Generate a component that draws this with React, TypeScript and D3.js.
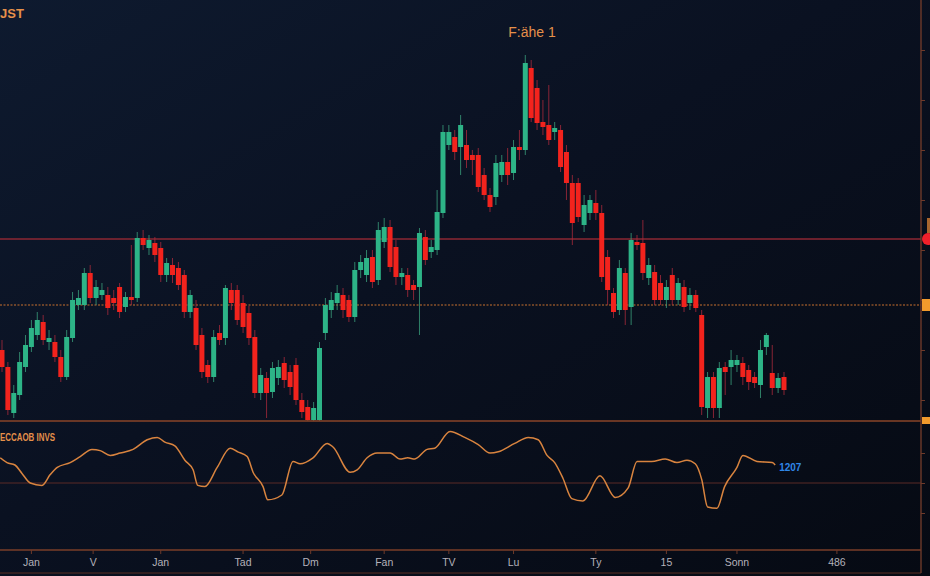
import { useEffect, useRef } from 'react';
import * as d3 from 'd3';

const W = 930;
const H = 576;

// OHLC, one entry per candle (price units)
const opens = [
  150, 133, 87, 105, 133, 153, 165, 178, 158, 158,
  143, 123, 162, 195, 195, 227, 202, 205, 205, 202,
  213, 193, 203, 202, 262, 252, 257, 252, 225, 235,
  232, 225, 188, 192, 165, 135, 123, 167, 162, 210,
  210, 197, 187, 163, 107, 122, 108, 122, 137, 128,
  135, 100, 93, 80, 80, 167, 190, 197, 205, 200,
  183, 230, 225, 243, 220, 258, 273, 253, 223, 225,
  215, 213, 263, 248, 250, 287, 355, 363, 353, 355,
  345, 345, 325, 305, 303, 325, 338, 327, 353, 350,
  432, 412, 378, 375, 368, 370, 348, 317, 317, 275,
  287, 297, 287, 243, 207, 190, 227, 193, 258, 257,
  222, 228, 217, 200, 225, 200, 213, 197, 205, 185,
  92, 123, 92, 133, 133, 135, 137, 130, 123, 115,
  153, 127, 112, 123,
];
const highs = [
  160, 138, 115, 148, 165, 180, 188, 185, 170, 165,
  150, 170, 208, 210, 232, 235, 220, 217, 213, 210,
  217, 208, 255, 268, 270, 265, 263, 258, 242, 242,
  238, 230, 210, 200, 172, 140, 170, 175, 215, 217,
  215, 205, 194, 170, 132, 128, 138, 140, 143, 135,
  142, 107, 100, 98, 158, 202, 208, 215, 212, 205,
  238, 245, 250, 250, 278, 282, 280, 260, 232, 232,
  220, 272, 270, 260, 310, 375, 375, 370, 385, 370,
  350, 352, 332, 312, 345, 345, 352, 360, 370, 445,
  440, 420, 400, 415, 378, 375, 355, 325, 322, 305,
  305, 310, 295, 250, 212, 240, 232, 267, 265, 280,
  242, 235, 225, 220, 232, 222, 220, 212, 210, 190,
  128, 128, 138, 138, 150, 145, 143, 135, 128, 160,
  167, 155, 127, 128,
];
const lows = [
  128, 85, 82, 100, 128, 148, 160, 155, 150, 138,
  118, 120, 158, 190, 190, 197, 195, 200, 185, 190,
  182, 188, 195, 198, 250, 245, 238, 218, 218, 217,
  210, 182, 182, 150, 122, 117, 118, 155, 155, 190,
  175, 167, 155, 102, 100, 82, 102, 115, 112, 105,
  95, 82, 79, 79, 79, 160, 182, 190, 182, 178,
  178, 222, 218, 212, 215, 252, 228, 215, 215, 203,
  200, 165, 235, 242, 245, 282, 350, 340, 325, 332,
  325, 308, 300, 288, 295, 318, 315, 320, 340, 345,
  378, 370, 365, 355, 360, 328, 300, 255, 278, 268,
  280, 280, 218, 195, 182, 185, 175, 175, 250, 220,
  215, 195, 195, 192, 195, 195, 188, 190, 188, 85,
  82, 82, 82, 105, 115, 128, 115, 110, 112, 102,
  145, 105, 107, 105,
];
const closes = [
  133, 90, 107, 138, 155, 172, 180, 160, 162, 143,
  123, 163, 200, 202, 227, 202, 213, 210, 192, 197,
  188, 203, 200, 262, 255, 260, 245, 225, 237, 225,
  215, 188, 205, 155, 128, 123, 163, 160, 212, 197,
  180, 173, 162, 107, 125, 107, 132, 133, 120, 113,
  100, 88, 80, 92, 152, 195, 200, 207, 190, 183,
  230, 238, 242, 218, 270, 273, 233, 223, 227, 210,
  210, 267, 240, 253, 288, 368, 368, 348, 375, 340,
  340, 313, 305, 293, 337, 338, 325, 353, 350, 437,
  382, 377, 373, 360, 372, 333, 317, 277, 283, 295,
  300, 287, 223, 210, 188, 232, 190, 260, 255, 227,
  235, 200, 200, 213, 200, 217, 193, 205, 192, 93,
  123, 92, 132, 128, 140, 140, 123, 118, 117, 150,
  165, 112, 122, 110,
];

// oscillator samples: position in bars, value 0..100
const oscT = [
  -0.3, 0.85, 2.2, 3.4, 4.8, 6.8, 8.2, 9.4, 11.6, 13.3,
  15.3, 16.7, 18.4, 20.1, 22.3, 24.7, 26.4, 27.7, 29.4, 31.1,
  32.5, 33.3, 34.5, 36.6, 38.8, 40.1, 41.7, 42.7, 44.4, 45.2,
  47.6, 49.5, 50.7, 52.9, 55.3, 56.3, 59.2, 60.4, 62.1, 63.8,
  66, 67.7, 69, 70.2, 72.3, 73.6, 76.2, 78.7, 81, 83,
  84.4, 87.2, 89.5, 91.2, 92.7, 94, 95.4, 96.9, 98.8, 101.7,
  104.3, 106.5, 108, 110.5, 112.8, 114.8, 116.5, 117.9, 119, 120,
  121.6, 122.9, 125, 126, 128.4, 131, 131.5,
];
const oscV = [
  71, 67, 65, 58, 50, 48, 57, 63, 67, 72,
  78, 77, 73, 75, 78, 86, 88, 84, 81, 69,
  61, 48, 47, 63, 79, 76, 72, 59, 47, 36,
  40, 68, 66, 71, 83, 80, 59, 61, 71, 75,
  75, 70, 71, 70, 78, 79, 93, 88, 82, 75,
  76, 83, 88, 86, 73, 67, 54, 37, 35, 56,
  38, 46, 68, 68, 70, 67, 69, 66, 53, 30,
  29, 47, 63, 73, 68, 67, 65,
];

const resistance = 261;
const support = 195;
const priceTicks = [100, 150, 200, 250, 300, 350, 400, 450];
const oscTicks = [25, 50, 75];
const oscMid = 50;

const xLabels = ['Jan', 'V', 'Jan', 'Tad', 'Dm', 'Fan', 'TV', 'Lu', 'Ty', '15', 'Sonn', '486'];
const xLabelBars = [5, 15.5, 27, 41, 52.5, 65, 76, 87, 101, 113, 125, 142];

const GREEN = '#2db487';
const RED = '#f2231d';
const ORANGE = '#e5904a';
const AXIS = '#6e3a2a';
const FONT = 'Liberation Sans, Arial, sans-serif';

export default function App() {
  const svgRef = useRef<SVGSVGElement>(null);

  useEffect(() => {
    if (!svgRef.current) return;
    const svg = d3.select(svgRef.current);
    svg.selectAll('*').remove();

    const axisX = 921;
    const mainBottom = 421;
    const oscBottom = 550;
    const frameBottom = 573;

    const x = d3.scaleLinear().domain([0, opens.length - 1]).range([2, 784]);
    const y = d3.scaleLinear().domain([80, 500]).range([420, 0]);
    const yo = d3.scaleLinear().domain([0, 100]).range([543, 423]);

    const defs = svg.append('defs');
    const bg = defs
      .append('linearGradient')
      .attr('id', 'bg')
      .attr('x1', 0)
      .attr('y1', 0)
      .attr('x2', 1)
      .attr('y2', 1);
    bg.append('stop').attr('offset', '0%').attr('stop-color', '#0e1a2f');
    bg.append('stop').attr('offset', '45%').attr('stop-color', '#0a1121');
    bg.append('stop').attr('offset', '100%').attr('stop-color', '#060a13');

    svg.append('rect').attr('width', W).attr('height', H).attr('fill', 'url(#bg)');

    // level lines
    svg
      .append('line')
      .attr('x1', 0)
      .attr('x2', axisX)
      .attr('y1', y(resistance))
      .attr('y2', y(resistance))
      .attr('stroke', '#8c2733')
      .attr('stroke-width', 1.3);
    svg
      .append('line')
      .attr('x1', 0)
      .attr('x2', axisX)
      .attr('y1', y(support))
      .attr('y2', y(support))
      .attr('stroke', '#c8702e')
      .attr('stroke-width', 1.2)
      .attr('stroke-dasharray', '2,1.5');

    // candles
    const idx = d3.range(opens.length);
    const bw = 5;
    const g = svg.append('g');
    g.selectAll('line.wick')
      .data(idx)
      .join('line')
      .attr('class', 'wick')
      .attr('x1', (i) => x(i))
      .attr('x2', (i) => x(i))
      .attr('y1', (i) => y(highs[i]))
      .attr('y2', (i) => y(lows[i]))
      .attr('stroke', (i) => (closes[i] >= opens[i] ? '#3a9e7c' : '#a82a3c'))
      .attr('stroke-width', 1)
      .attr('opacity', 0.8);
    g.selectAll('rect.body')
      .data(idx)
      .join('rect')
      .attr('class', 'body')
      .attr('x', (i) => x(i) - bw / 2)
      .attr('width', bw)
      .attr('y', (i) => y(Math.max(opens[i], closes[i])))
      .attr('height', (i) => Math.max(1.5, Math.abs(y(opens[i]) - y(closes[i]))))
      .attr('fill', (i) => (closes[i] >= opens[i] ? GREEN : RED));

    // panel borders
    const hline = (yy: number, color: string, w = 1.4) =>
      svg
        .append('line')
        .attr('x1', 0)
        .attr('x2', axisX)
        .attr('y1', yy)
        .attr('y2', yy)
        .attr('stroke', color)
        .attr('stroke-width', w);
    hline(mainBottom, '#8a4428', 1.6);
    hline(oscBottom, '#7a3e28', 1.4);
    hline(frameBottom, '#5a2e22', 1.2);
    hline(yo(oscMid), '#5a2a26', 1);

    svg
      .append('line')
      .attr('x1', axisX)
      .attr('x2', axisX)
      .attr('y1', 0)
      .attr('y2', frameBottom)
      .attr('stroke', AXIS)
      .attr('stroke-width', 1.4);

    // right axis ticks
    const ax = svg
      .append('g')
      .attr('transform', `translate(${axisX},0)`)
      .call(d3.axisRight(y).tickValues(priceTicks).tickSize(4).tickFormat(() => ''));
    ax.select('.domain').remove();
    ax.selectAll('line').attr('stroke', AXIS);
    const ax2 = svg
      .append('g')
      .attr('transform', `translate(${axisX},0)`)
      .call(d3.axisRight(yo).tickValues(oscTicks).tickSize(4).tickFormat(() => ''));
    ax2.select('.domain').remove();
    ax2.selectAll('line').attr('stroke', AXIS);

    // price markers on the axis
    svg
      .append('rect')
      .attr('x', axisX + 6)
      .attr('y', y(resistance) - 21)
      .attr('width', 4)
      .attr('height', 15)
      .attr('fill', '#a8662e');
    svg
      .append('circle')
      .attr('cx', axisX + 7)
      .attr('cy', y(resistance))
      .attr('r', 6)
      .attr('fill', '#f0202a');
    svg
      .append('rect')
      .attr('x', axisX + 1)
      .attr('y', y(support) - 6)
      .attr('width', 10)
      .attr('height', 12)
      .attr('fill', '#f29a2c');
    svg
      .append('rect')
      .attr('x', axisX + 1)
      .attr('y', mainBottom - 4)
      .attr('width', 10)
      .attr('height', 7)
      .attr('fill', '#f29a2c');

    // oscillator
    const pts = oscT.map((t, i) => [t, oscV[i]] as [number, number]);
    const line = d3
      .line<[number, number]>()
      .x((d) => x(d[0]))
      .y((d) => yo(d[1]))
      .curve(d3.curveMonotoneX);
    svg
      .append('path')
      .attr('d', line(pts) ?? '')
      .attr('fill', 'none')
      .attr('stroke', '#d9843f')
      .attr('stroke-width', 1.5);

    const last = pts[pts.length - 1];
    svg
      .append('text')
      .attr('x', x(last[0]) + 4)
      .attr('y', yo(last[1]) + 6)
      .attr('fill', '#2f86e8')
      .attr('font-size', 10)
      .attr('font-weight', 'bold')
      .attr('font-family', FONT)
      .text('1207');

    // x axis labels
    const xg = svg.append('g');
    xg.selectAll('line')
      .data(xLabelBars)
      .join('line')
      .attr('x1', (d) => x(d))
      .attr('x2', (d) => x(d))
      .attr('y1', oscBottom)
      .attr('y2', oscBottom + 4)
      .attr('stroke', AXIS);
    xg.selectAll('text')
      .data(xLabels)
      .join('text')
      .attr('x', (_, i) => x(xLabelBars[i]))
      .attr('y', 566)
      .attr('text-anchor', 'middle')
      .attr('fill', '#b4b2bb')
      .attr('font-size', 10.5)
      .attr('font-family', FONT)
      .text((d) => d);

    // titles
    svg
      .append('text')
      .attr('x', 0)
      .attr('y', 18)
      .attr('fill', ORANGE)
      .attr('font-size', 13)
      .attr('font-weight', 'bold')
      .attr('font-family', FONT)
      .text('JST');
    svg
      .append('text')
      .attr('x', 532)
      .attr('y', 37)
      .attr('text-anchor', 'middle')
      .attr('fill', ORANGE)
      .attr('font-size', 14)
      .attr('font-family', FONT)
      .text('F:ähe 1');
    svg
      .append('text')
      .attr('x', 0)
      .attr('y', 441)
      .attr('fill', ORANGE)
      .attr('font-size', 10)
      .attr('font-weight', 'bold')
      .attr('font-family', FONT)
      .attr('textLength', 55)
      .attr('lengthAdjust', 'spacingAndGlyphs')
      .text('ECCAOB INVS');
  }, []);

  return (
    <svg
      ref={svgRef}
      width={W}
      height={H}
      style={{ position: 'absolute', left: 0, top: 0, display: 'block' }}
    />
  );
}
